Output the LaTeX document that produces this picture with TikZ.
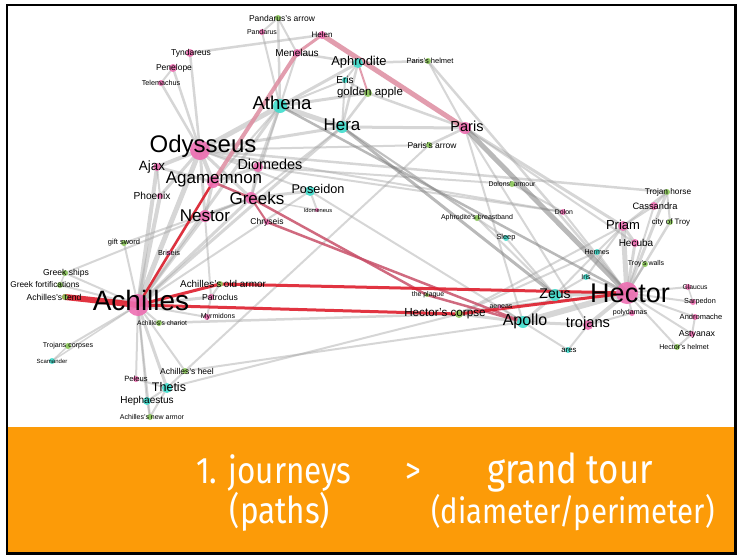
\documentclass[tikz,border=0pt]{standalone}
\usepackage{fontspec}
\setmainfont{Liberation Sans}
\newfontfamily\bandfont[FakeStretch=0.85]{Fira Sans}
\usepackage{tikz}

\definecolor{pk}{RGB}{238,110,178}
\definecolor{cy}{RGB}{64,222,206}
\definecolor{gn}{RGB}{140,200,90}
\definecolor{bandorange}{RGB}{252,155,8}
\definecolor{edgegray}{RGB}{165,165,165}
\definecolor{pathred}{RGB}{222,30,45}
\definecolor{pathrose}{RGB}{200,80,105}
\definecolor{pathpink}{RGB}{222,140,160}

\tikzset{
  edge/.style={draw=edgegray, draw opacity=0.45, line cap=round},
  darkedge/.style={draw=gray, draw opacity=0.55, line cap=round},
  redpath/.style={draw=pathred, draw opacity=0.9, line cap=round},
  rosepath/.style={draw=pathrose, draw opacity=0.85, line cap=round},
  pinkpath/.style={draw=pathpink, draw opacity=0.85, line cap=round},
  bandtext/.style={text=white, font=\bandfont\fontsize{37}{40}\selectfont, anchor=base, inner sep=0pt}
}

\def\cast{ach/138/305/11/pk/28/3/5/Achilles, ody/200/150/10/pk/24/3/4/Odysseus,
  hec/627/293/11/pk/27/3/0/Hector, aga/213/182/6/pk/17/1/3/Agamemnon,
  gre/251/198/6/pk/17/6/0/Greeks, nes/205/216/6/pk/17/0/0/Nestor,
  dio/258/167/5/pk/14.4/12/3/Diomedes, ajx/157/167/4/pk/13.4/-5/0/Ajax,
  pho/160/196/3/pk/10.2/-8/0/Phoenix, ath/280/106/7/cy/18.6/2/3/Athena,
  her/342/127/6/cy/17/0/2/Hera, aph/358/63/5/cy/12.9/1/1/Aphrodite,
  eri/345/80/3/cy/10/0/0/Eris, gap/368/93/4/gn/11.5/2/0/golden apple,
  par/465/128/6/pk/14.5/2/2/Paris, pre/429/145/3/gn/8.5/3/0/Paris's arrow,
  phe/428/61/3/gn/7.5/2/0/Paris's helmet, hel/322/35/4/pk/8/0/0/Helen,
  men/297/53/4/pk/10/0/0/Menelaus, pan/262/32/3/pk/7/0/0/Pandarus,
  paa/278/18/3/gn/8.5/4/0/Pandarus's arrow, tyn/190/53/4/pk/8.5/1/0/Tyndareus,
  pen/173/68/4/pk/8.5/1/0/Penelope, tel/161/83/3/pk/7.2/0/0/Telemachus,
  pos/310/191/5/cy/12.7/8/2/Poseidon, ido/317/210/2/pk/5.7/1/0/Idomeneus,
  chr/267/222/3/pk/8.5/0/0/Chryseis, gsw/124/243/3/gn/7.5/0/0/gift sword,
  bri/169/253/2.5/pk/7.3/0/0/Briseis, gsh/65/273/3/gn/8.6/1/0/Greek ships,
  gfo/60/285/3/gn/8.3/-15/0/Greek fortifications, ate/65/297/3/gn/8.6/-11/0/Achilles's tend,
  aoa/220/284/3/gn/9.9/3/0/Achilles's old armor, pat/211/297/3/pk/8.6/9/0/Patroclus,
  myr/207/317/3/pk/7/11/0/Myrmidons, acr/159/323/3/gn/6.7/3/0/Achilles's chariot,
  tco/68/346/3/gn/7.1/0/0/Trojans corpses, sca/52/361/3/cy/6/0/0/Scamander,
  ahe/185/371/3/gn/8.5/2/0/Achilles's heel, pel/136/379/3/pk/7.6/0/0/Peleus,
  the/167/388/5/cy/12.5/2/1/Thetis, hep/147/401/4/cy/10/0/0/Hephaestus,
  ana/150/417/3/gn/7/2/0/Achilles's new armor, pla/427/295/2/gn/6.9/1/0/the plague,
  hco/459/314/4/gn/11.7/-14/0/Hector's corpse, abb/477/218/3/gn/7/0/0/Aphrodite's breastband,
  dar/512/184/3/gn/6.9/0/0/Dolons' armour, dol/563/212/3/pk/6.9/1/0/Dolon,
  sle/506/238/3/cy/7.4/0/0/Sleep, thr/667/192/3/gn/8.3/1/0/Trojan horse,
  cas/654/206/4/pk/9.3/1/0/Cassandra, cot/670/222/3/gn/7.9/1/0/city of Troy,
  pri/623/226/5/pk/13/0/1/Priam, hcu/635/243/4/pk/10/1/0/Hecuba,
  hrm/597/252/3/cy/7.1/0/0/Hermes, trw/645/264/3/gn/7/1/0/Troy's walls,
  iri/586/277/3/cy/7/0/0/Iris, gla/688/287/3/pk/6.8/7/0/Glaucus,
  sar/693/302/3/pk/7.3/7/0/Sarpedon, anm/695/317/3/pk/7.5/6/0/Andromache,
  ast/692/334/3/pk/8.8/5/0/Astyanax, hhe/677/347/3/gn/7.1/7/0/Hector's helmet,
  pol/632/313/3/pk/7.1/-2/0/polydamas, zeu/555/295/6/cy/14/0/1/Zeus,
  aen/500/307/2/pk/7/1/0/aeneas, apo/523/322/6/cy/16/2/1/Apollo,
  tro/588/325/5/pk/14.7/0/1/trojans, are/568/350/3/cy/7.8/1/0/ares}

\def\links{ody/ach/5, ody/ath/5, ody/ajx/4, ody/aga/4, ody/dio/3, ody/nes/3, ody/pho/3,
  ody/gre/3, ody/tyn/2.5, ody/pen/2.5, ody/tel/2.5, tel/pen/2, ody/her/3, ody/pos/2,
  ody/thr/2.5, ody/dol/2, ody/pre/2, ajx/ach/4, ajx/aga/3, ajx/pho/2, pho/ach/4,
  nes/ach/3, gre/ach/3, aga/nes/3, aga/dio/3, aga/bri/2, bri/ach/2, nes/gre/2, dio/gre/3,
  dio/ath/3, dio/dol/2, dio/dar/2, aga/ath/2, gre/pos/3, gre/her/2, gre/ath/2, pos/ido/2,
  ido/gre/1.5, pos/apo/2, pos/ach/2, nes/pat/2, gsw/gre/2, gsw/ach/2, gsh/ach/2, gsh/gre/2,
  gfo/ach/2, gfo/gsh/1.5, tco/ach/2, tco/sca/1.5, sca/ach/1.5, acr/ach/2, acr/hco/2.5,
  pel/ach/2, pel/the/2, the/ach/3, hep/ach/2, hep/the/2, ana/hep/2, ana/the/2, ana/ach/2,
  ahe/ach/2, ahe/the/2, ahe/apo/2, ahe/pre/2, the/hco/2, pat/ach/3, myr/ach/2, myr/pat/2,
  aoa/pat/2, ath/ach/3, her/ach/3, ath/her/5, ath/eri/2, ath/gap/3, ath/aph/3, ath/men/2,
  ath/pan/2, ath/paa/2.5, paa/pan/2, paa/men/2, tyn/hel/2.5, men/aph/2.5, aph/phe/2.5,
  phe/par/2, aph/her/2.5, aph/eri/2, her/eri/2, her/gap/2.5, eri/gap/2, gap/par/2.5,
  her/par/3, her/sle/2, her/abb/2, abb/zeu/2, sle/zeu/2, par/pre/2.5, par/pri/3, par/hcu/2,
  par/tro/2, par/apo/2, phe/hec/2.5, pri/hec/5, pri/hcu/3, pri/cas/2, pri/hrm/2, pri/hco/2,
  pri/thr/2, pri/iri/2, cas/thr/2, cas/hec/2, thr/cot/2, thr/hec/3, cot/hec/2.5, hcu/hec/3,
  trw/hec/2, hrm/hec/2, hrm/zeu/2, iri/zeu/2, iri/hec/2, zeu/hec/4, apo/hec/6, apo/zeu/3,
  apo/tro/3, tro/hec/4, are/apo/2, are/tro/2, hec/gla/2, hec/sar/2, gla/sar/1.5, hec/anm/2,
  hec/ast/2, anm/ast/2, hec/hhe/2, hhe/ast/2, hec/pol/2, pol/tro/2, aen/apo/2, aen/hec/2,
  dol/hec/2, dar/dol/2, hco/apo/3, hco/zeu/2, hco/hrm/2}

\begin{document}
\begin{tikzpicture}[x=1pt,y=-1pt]
\useasboundingbox (0,0) rectangle (738,555);
\fill[white] (0,0) rectangle (738,555);
\fill[bandorange] (7,427) rectangle (735.5,553.5);
\draw[line width=2.5pt] (7,5) rectangle (735.5,553.5);

\foreach \nm/\px/\py/\rad/\col/\fs/\lx/\ly/\txt in \cast
  \coordinate (\nm) at (\px,\py);

\foreach \a/\b/\w in \links
  \draw[edge, line width=\w pt] (\a) -- (\b);
\foreach \a/\b/\w in {her/zeu/3, ath/hec/2.5, par/hec/5}
  \draw[darkedge, line width=\w pt] (\a) -- (\b);

\foreach \a/\b/\w in {aga/men/4, men/hel/3, hel/par/5, aph/gap/2}
  \draw[pinkpath, line width=\w pt] (\a) -- (\b);
\foreach \a/\b/\w in {aga/gre/2.5, gre/pla/2.5, gre/chr/2, chr/apo/2.5, pla/apo/2.5}
  \draw[rosepath, line width=\w pt] (\a) -- (\b);
\foreach \a/\b/\w in {ate/ach/6, ach/aga/2.5, ach/aoa/3, aoa/hec/3, ach/hco/3, hco/hec/3}
  \draw[redpath, line width=\w pt] (\a) -- (\b);

\foreach \nm/\px/\py/\rad/\col/\fs/\lx/\ly/\txt in \cast
  \fill[\col, fill opacity=0.9] (\nm) circle[radius=\rad pt];

\foreach \nm/\px/\py/\rad/\col/\fs/\lx/\ly/\txt in \cast
  \node[inner sep=0pt, font=\fontsize{\fs}{\fs}\selectfont] (\nm-lab) at (\px+\lx,\py-\ly) {\txt};

\node[bandtext] (journeys) at (274,483) {1. journeys};
\node[bandtext] (gt) at (413,483) {>};
\node[bandtext, font=\bandfont\fontsize{41}{44}\selectfont] (tour) at (570,483) {grand tour};
\node[bandtext] (paths) at (280,523) {(paths)};
\node[bandtext, font=\bandfont\fontsize{34.5}{38}\selectfont] (diam) at (573,523) {(diameter/perimeter)};
\end{tikzpicture}
\end{document}
